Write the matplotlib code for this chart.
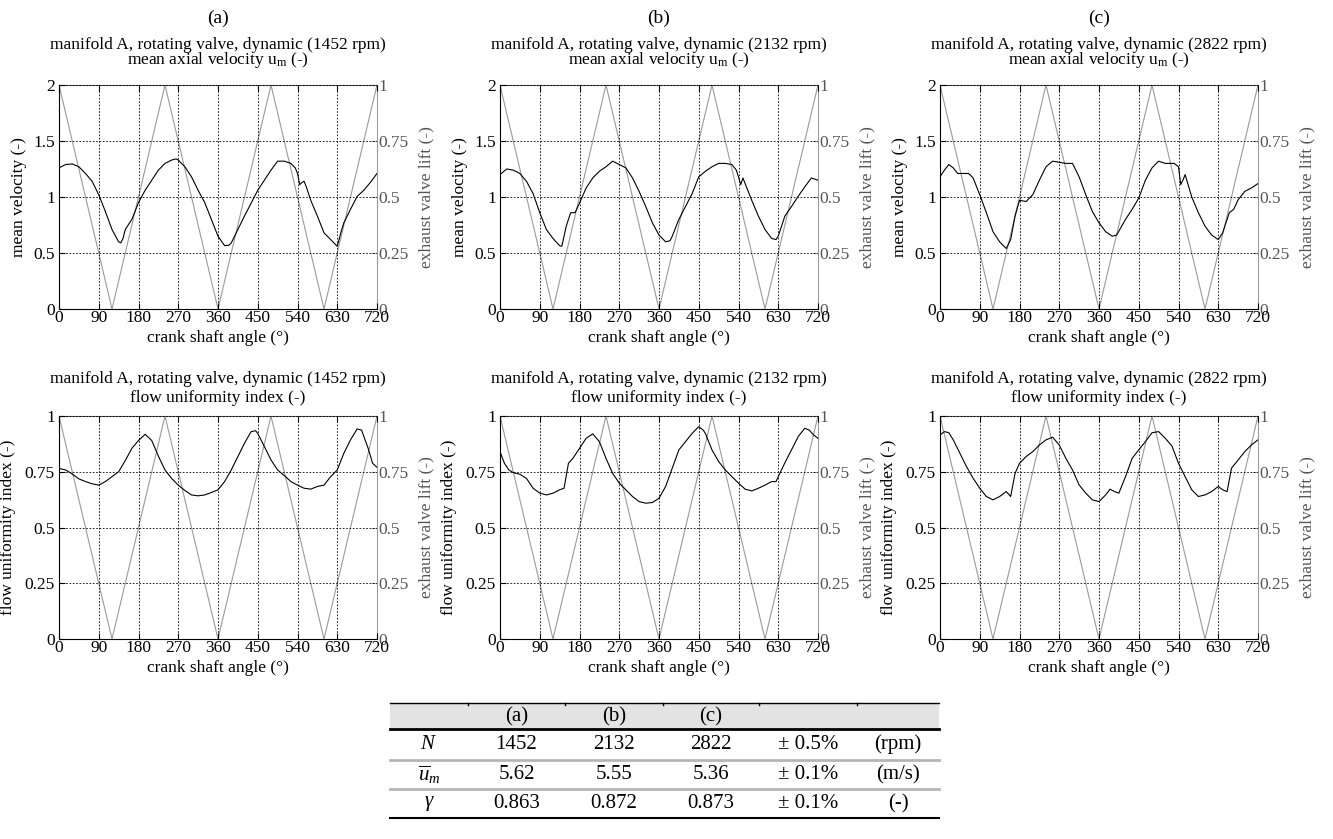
import numpy as np
import matplotlib.pyplot as plt

plt.rcParams['font.family'] = ['Liberation Serif', 'DejaVu Serif']
plt.rcParams['mathtext.fontset'] = 'custom'
plt.rcParams['mathtext.rm'] = 'Liberation Serif'
plt.rcParams['mathtext.it'] = 'Liberation Serif:italic'

# exhaust valve lift (same in every panel)
valve_angle = [0, 120, 240, 360, 480, 600, 720]
valve_lift = [1, 0, 1, 0, 1, 0, 1]

# mean axial velocity (-)
vel_a_angle = [0, 15, 30, 45, 60, 75, 90, 105, 120, 135, 140, 145, 150, 165, 180, 195, 210, 225, 240,
               255, 265, 270, 285, 300, 315, 330, 345, 360, 375, 385, 390, 405, 420, 435, 450, 465, 480,
               495, 510, 525, 535, 540, 545, 550, 555, 560, 570, 585, 600, 615, 630, 638, 645, 660, 675,
               690, 705, 720]
vel_a = [1.26, 1.29, 1.295, 1.27, 1.21, 1.14, 1.02, 0.87, 0.71, 0.60, 0.59, 0.63, 0.71, 0.80, 0.95, 1.06,
         1.15, 1.24, 1.30, 1.33, 1.34, 1.33, 1.27, 1.18, 1.06, 0.95, 0.80, 0.65, 0.565, 0.57, 0.59, 0.71,
         0.83, 0.945, 1.06, 1.15, 1.24, 1.32, 1.32, 1.30, 1.26, 1.21, 1.11, 1.13, 1.14, 1.09, 0.97, 0.83,
         0.68, 0.62, 0.56, 0.68, 0.77, 0.89, 1.005, 1.06, 1.13, 1.21]

vel_b_angle = [0, 15, 30, 45, 60, 75, 90, 105, 120, 135, 140, 150, 160, 170, 180, 195, 210, 225, 240,
               255, 265, 270, 285, 300, 315, 330, 345, 360, 375, 385, 390, 405, 420, 435, 450, 465, 480,
               495, 510, 525, 535, 540, 545, 550, 555, 570, 585, 600, 615, 625, 630, 645, 660, 675, 690,
               705, 720]
vel_b = [1.20, 1.25, 1.24, 1.21, 1.14, 1.03, 0.86, 0.71, 0.63, 0.565, 0.56, 0.74, 0.86, 0.86, 0.945, 1.08,
         1.17, 1.23, 1.27, 1.32, 1.30, 1.29, 1.26, 1.17, 1.05, 0.915, 0.77, 0.66, 0.60, 0.61, 0.65, 0.80,
         0.915, 1.03, 1.18, 1.23, 1.27, 1.30, 1.30, 1.29, 1.24, 1.18, 1.11, 1.17, 1.12, 0.97, 0.83, 0.71,
         0.63, 0.62, 0.65, 0.83, 0.915, 1.005, 1.09, 1.17, 1.15]

vel_c_angle = [0, 10, 20, 30, 40, 50, 65, 75, 90, 105, 120, 135, 150, 160, 170, 180, 195, 210, 225, 240,
               255, 270, 285, 300, 315, 330, 345, 360, 375, 390, 400, 420, 435, 450, 465, 480, 495, 510,
               530, 540, 545, 550, 555, 570, 585, 600, 615, 630, 640, 655, 665, 675, 690, 705, 720]
vel_c = [1.18, 1.24, 1.29, 1.26, 1.21, 1.21, 1.21, 1.17, 1.02, 0.86, 0.69, 0.60, 0.54, 0.62, 0.83, 0.97,
         0.96, 1.02, 1.15, 1.27, 1.32, 1.31, 1.30, 1.30, 1.18, 1.02, 0.87, 0.77, 0.69, 0.65, 0.66, 0.80,
         0.89, 0.99, 1.15, 1.26, 1.32, 1.30, 1.30, 1.27, 1.11, 1.15, 1.20, 1.00, 0.86, 0.74, 0.66, 0.62,
         0.68, 0.86, 0.89, 0.975, 1.05, 1.08, 1.12]

# flow uniformity index (-)
fui_a_angle = [0, 15, 30, 45, 60, 75, 90, 105, 120, 135, 150, 165, 180, 195, 210, 225, 240, 255, 270,
               285, 300, 315, 330, 345, 360, 375, 390, 405, 420, 435, 445, 450, 465, 480, 495, 510, 525,
               540, 555, 570, 585, 600, 615, 630, 645, 660, 675, 685, 700, 710, 720]
fui_a = [0.765, 0.758, 0.74, 0.718, 0.706, 0.696, 0.69, 0.706, 0.728, 0.75, 0.80, 0.855, 0.89, 0.918,
         0.89, 0.82, 0.758, 0.72, 0.69, 0.666, 0.646, 0.642, 0.646, 0.657, 0.669, 0.706, 0.758, 0.818,
         0.878, 0.93, 0.934, 0.922, 0.863, 0.803, 0.758, 0.733, 0.706, 0.69, 0.676, 0.672, 0.684, 0.69,
         0.728, 0.758, 0.833, 0.893, 0.942, 0.937, 0.855, 0.788, 0.77]

fui_b_angle = [0, 10, 20, 30, 45, 60, 75, 90, 105, 120, 135, 145, 155, 165, 180, 195, 210, 225, 240,
               255, 270, 285, 300, 315, 330, 345, 360, 375, 390, 405, 420, 435, 450, 460, 465, 480, 495,
               510, 525, 540, 555, 570, 585, 600, 615, 625, 630, 645, 660, 675, 690, 700, 710, 720]
fui_b = [0.84, 0.788, 0.758, 0.746, 0.739, 0.72, 0.676, 0.654, 0.646, 0.654, 0.669, 0.676, 0.788, 0.81,
         0.855, 0.90, 0.92, 0.885, 0.81, 0.743, 0.699, 0.669, 0.639, 0.616, 0.609, 0.612, 0.631, 0.684,
         0.766, 0.848, 0.885, 0.922, 0.952, 0.937, 0.922, 0.848, 0.796, 0.758, 0.728, 0.699, 0.672,
         0.664, 0.676, 0.69, 0.706, 0.706, 0.728, 0.79, 0.848, 0.907, 0.945, 0.937, 0.915, 0.90]

fui_c_angle = [0, 10, 20, 30, 45, 60, 75, 90, 105, 120, 135, 150, 160, 170, 180, 195, 210, 225, 240,
               255, 270, 285, 300, 315, 330, 345, 360, 375, 385, 395, 405, 420, 435, 450, 465, 480, 495,
               510, 525, 540, 555, 570, 585, 600, 615, 630, 640, 650, 660, 675, 690, 705, 720]
fui_c = [0.915, 0.93, 0.925, 0.893, 0.833, 0.773, 0.721, 0.676, 0.639, 0.624, 0.639, 0.661, 0.639,
         0.743, 0.788, 0.818, 0.84, 0.87, 0.893, 0.905, 0.87, 0.81, 0.758, 0.691, 0.654, 0.624, 0.616,
         0.646, 0.672, 0.661, 0.654, 0.728, 0.81, 0.848, 0.885, 0.925, 0.93, 0.90, 0.866, 0.788, 0.728,
         0.669, 0.639, 0.646, 0.661, 0.684, 0.669, 0.661, 0.766, 0.803, 0.84, 0.87, 0.893]

letters = ['(a)', '(b)', '(c)']
speeds = [1452, 2132, 2822]

# table
tab_header = ['', '(a)', '(b)', '(c)', '', '']
tab_rows = [
    ['$N$', '1452', '2132', '2822', '± 0.5%', '(rpm)'],
    [r'$\overline{u}_{m}$', '5.62', '5.55', '5.36', '± 0.1%', '(m/s)'],
    [r'$\gamma$', '0.863', '0.872', '0.873', '± 0.1%', '(-)'],
]

W, H = 1333, 839
GRAY = '#9a9a9a'
LBL_GRAY = '#555555'
FS = 12.5


def px_axes(left, top, right, bottom):
    return [left / W, 1 - bottom / H, (right - left) / W, (bottom - top) / H]


def draw_panel(ax, x, y, ymax, yticks, ylabels, ylabel, yl_x):
    ax2 = ax.twinx()
    ax2.plot(valve_angle, valve_lift, color=GRAY, lw=0.8)
    ax2.set_ylim(0, 1)
    ax2.set_yticks([0, 0.25, 0.5, 0.75, 1])
    ax2.set_yticklabels(['0', '0.25', '0.5', '0.75', '1'])
    ax2.tick_params(axis='y', direction='in', length=4, pad=1, labelsize=FS,
                    labelcolor=LBL_GRAY, color=GRAY)
    ax2.set_ylabel('exhaust valve lift (-)', color=LBL_GRAY, fontsize=FS)
    ax2.yaxis.set_label_coords(1.13, 0.5)
    for s in ['left', 'bottom']:
        ax2.spines[s].set_visible(False)
    ax2.spines['right'].set_color(GRAY)
    ax2.spines['top'].set_color('#555555')

    ax.plot(x, y, color='k', lw=0.8, zorder=3)
    ax.set_xlim(0, 720)
    ax.set_ylim(0, ymax)
    ax.set_xticks(np.arange(0, 721, 90))
    ax.set_yticks(yticks)
    ax.set_yticklabels(ylabels)
    ax.grid(True, ls=(0, (2, 2)), color='k', lw=0.6)
    ax.tick_params(direction='in', length=4, labelsize=FS, top=True, pad=3)
    ax.tick_params(axis='x', pad=1)
    ax.set_ylabel(ylabel, fontsize=FS)
    ax.yaxis.set_label_coords(yl_x, 0.5)
    ax.set_xlabel('crank shaft angle (°)', fontsize=FS)
    ax.xaxis.set_label_coords(0.5, -0.13)
    ax.xaxis.label.set_va('center')
    ax.spines['right'].set_visible(False)
    ax.spines['top'].set_visible(False)
    ax.set_zorder(ax2.get_zorder() + 1)
    ax.patch.set_visible(False)


fig = plt.figure(figsize=(W / 100, H / 100), dpi=100)

lefts = [59, 500, 940]
vel_data = [(vel_a_angle, vel_a), (vel_b_angle, vel_b), (vel_c_angle, vel_c)]
fui_data = [(fui_a_angle, fui_a), (fui_b_angle, fui_b), (fui_c_angle, fui_c)]

for i in range(3):
    l = lefts[i]
    r = l + 318
    cx = (l + r) / 2 / W

    ax = fig.add_axes(px_axes(l, 85, r, 309))
    draw_panel(ax, vel_data[i][0], vel_data[i][1], 2, [0, 0.5, 1, 1.5, 2],
               ['0', '0.5', '1', '1.5', '2'], 'mean velocity (-)', -0.10)
    fig.text(cx, 1 - 18 / H, letters[i], ha='center', va='center', fontsize=14)
    fig.text(cx, 1 - 49 / H, 'manifold A, rotating valve, dynamic (%d rpm)' % speeds[i],
             ha='center', va='baseline', fontsize=FS)
    fig.text(cx, 1 - 64 / H, r'mean axial velocity u$_{\mathrm{m}}$ (-)',
             ha='center', va='baseline', fontsize=FS)

    ax = fig.add_axes(px_axes(l, 416, r, 639))
    draw_panel(ax, fui_data[i][0], fui_data[i][1], 1, [0, 0.25, 0.5, 0.75, 1],
               ['0', '0.25', '0.5', '0.75', '1'], 'flow uniformity index (-)', -0.135)
    fig.text(cx, 1 - 383 / H, 'manifold A, rotating valve, dynamic (%d rpm)' % speeds[i],
             ha='center', va='baseline', fontsize=FS)
    fig.text(cx, 1 - 402 / H, 'flow uniformity index (-)',
             ha='center', va='baseline', fontsize=FS)

# summary table drawn in pixel coordinates
tx0, tx1 = 390, 939
col_edges = [tx0, 468, 565, 663, 759, 857, tx1]
row_edges = [703, 729, 760, 789, 818]
tab = fig.add_axes([0, 0, 1, 1])
tab.set_xlim(0, W)
tab.set_ylim(H, 0)
tab.axis('off')
tab.add_patch(plt.Rectangle((tx0, row_edges[0]), tx1 - tx0, row_edges[1] - row_edges[0],
                            facecolor='#e3e3e3', edgecolor='none'))
tab.plot([tx0, tx1], [row_edges[0], row_edges[0]], color='k', lw=1.0)
tab.plot([tx0, tx1], [row_edges[1], row_edges[1]], color='k', lw=2.0)
tab.plot([tx0, tx1], [row_edges[2], row_edges[2]], color='#b5b5b5', lw=2.0)
tab.plot([tx0, tx1], [row_edges[3], row_edges[3]], color='#b5b5b5', lw=2.0)
tab.plot([tx0, tx1], [row_edges[4], row_edges[4]], color='k', lw=1.5)
for xe in col_edges[1:-1]:
    tab.plot([xe, xe], [row_edges[0], row_edges[0] + 2], color='k', lw=1.0)

centers = [(col_edges[j] + col_edges[j + 1]) / 2 for j in range(6)]
for j, txt in enumerate(tab_header):
    if txt:
        tab.text(centers[j], (row_edges[0] + row_edges[1]) / 2 + 1, txt,
                 ha='center', va='center', fontsize=15)
for k, row in enumerate(tab_rows):
    yc = (row_edges[k + 1] + row_edges[k + 2]) / 2
    for j, txt in enumerate(row):
        tab.text(centers[j], yc, txt, ha='center', va='center', fontsize=15)

fig.savefig('out.png', dpi=100)
